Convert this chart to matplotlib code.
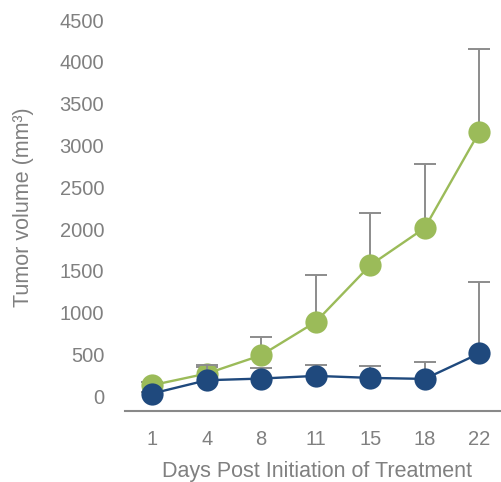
import numpy as np
import matplotlib.pyplot as plt

plt.rcParams['font.family'] = ['Liberation Sans', 'DejaVu Sans']

days = ['1', '4', '8', '11', '15', '18', '22']
control_mean = [132, 271, 490, 889, 1567, 2013, 3161]
control_err = [40, 80, 219, 558, 622, 770, 998]
treated_mean = [32, 191, 211, 243, 219, 207, 511]
treated_err = [20, 180, 128, 136, 143, 203, 856]

green = '#9BBB59'
blue = '#1F497D'
bar_gray = '#8C8C8C'
text_gray = '#808080'

x = np.arange(len(days))

fig = plt.figure(figsize=(5.02, 4.82), dpi=100)
ax = fig.add_axes([125 / 502, 71 / 482, 381.5 / 502, 391 / 482])

# upper-only error bars: stem plus a single cap on top
cap = 0.2
for i, (mean, err, color) in enumerate([(control_mean, control_err, green),
                                         (treated_mean, treated_err, blue)]):
    z = 2 + 3 * i
    top = np.array(mean) + np.array(err)
    ax.vlines(x, mean, top, color=bar_gray, lw=1.4, zorder=z)
    ax.hlines(top, x - cap, x + cap, color=bar_gray, lw=1.4, zorder=z)
    ax.plot(x, mean, '-', color=color, lw=1.7, zorder=z + 1)
    ax.plot(x, mean, 'o', color=color, ms=16, mec='none', zorder=z + 2)

ax.set_xlim(-0.5, 6.5)
ax.set_ylim(-177, 4500)
ax.set_xticks(x)
ax.set_xticklabels(days)
ax.set_yticks(np.arange(0, 4501, 500))

for side in ['top', 'right', 'left']:
    ax.spines[side].set_visible(False)
ax.spines['bottom'].set_color('#898989')
ax.spines['bottom'].set_linewidth(1.5)

ax.tick_params(axis='both', length=0, labelsize=14.5, labelcolor=text_gray)
ax.tick_params(axis='x', pad=13.5)
ax.tick_params(axis='y', pad=15)

ax.set_ylabel('Tumor volume (mm³)', fontsize=15.5, color=text_gray)
ax.set_xlabel('Days Post Initiation of Treatment', fontsize=15.5, color=text_gray)
ax.yaxis.set_label_coords(-102 / 381.5, 0.52)
ax.xaxis.set_label_coords((317 - 125) / 381.5, -60 / 391)
ax.xaxis.label.set_va('center')
ax.yaxis.label.set_va('center')

fig.savefig('out.png', dpi=100)
